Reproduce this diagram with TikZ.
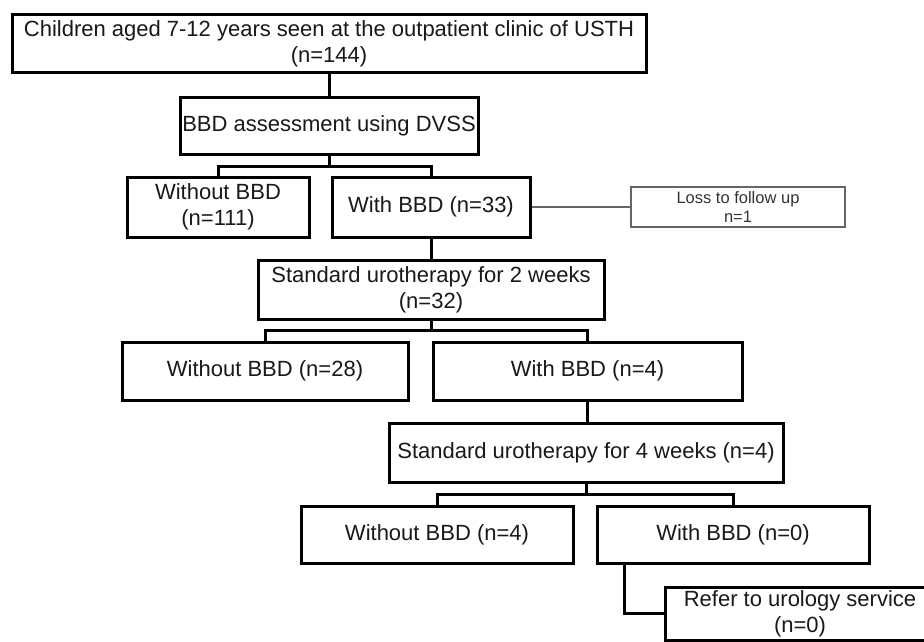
\documentclass[tikz,border=0pt]{standalone}
\usepackage{fontspec}
\setmainfont{Liberation Sans}
\begin{document}
\begin{tikzpicture}[x=1pt,y=-1pt,
  box/.style={draw=black, line width=3pt, inner sep=0pt, align=center,
    font=\fontsize{22}{26}\selectfont, text=black!90},
  con/.style={draw=black, line width=3pt},
  thinbox/.style={draw=black!60, line width=1.4pt, inner sep=0pt, align=center,
    font=\fontsize{16.5}{19}\selectfont, text=black!80},
  thincon/.style={draw=black!60, line width=1.4pt}]
\useasboundingbox (0,0) rectangle (924,642);
\clip (0,0) rectangle (924,642);
\fill[white] (0,0) rectangle (924,642);

% nodes
\node[box, minimum width=634pt, minimum height=58pt] (top) at (329,44)
  {Children aged 7-12 years seen at the outpatient clinic of USTH\\(n=144)};
\node[box, minimum width=298pt, minimum height=57pt] (bbd) at (329,125.5)
  {BBD assessment using DVSS};
\node[box, minimum width=182pt, minimum height=60pt] (wo1) at (218,207)
  {Without BBD\\(n=111)};
\node[box, minimum width=198pt, minimum height=60pt] (w1) at (431,207)
  {With BBD (n=33)};
\node[thinbox, minimum width=214pt, minimum height=40pt] (loss) at (738,207)
  {Loss to follow up\\n=1};
\node[box, minimum width=346pt, minimum height=59pt] (su2) at (431,289.5)
  {Standard urotherapy for 2 weeks\\(n=32)};
\node[box, minimum width=286pt, minimum height=58pt] (wo2) at (265,371)
  {Without BBD (n=28)};
\node[box, minimum width=309pt, minimum height=58pt] (w2) at (587.5,371)
  {With BBD (n=4)};
\node[box, minimum width=394pt, minimum height=59pt] (su4) at (586,452.5)
  {Standard urotherapy for 4 weeks (n=4)};
\node[box, minimum width=272pt, minimum height=57pt] (wo3) at (437,534.5)
  {Without BBD (n=4)};
\node[box, minimum width=272pt, minimum height=57pt] (w3) at (733,534.5)
  {With BBD (n=0)};
\node[box, minimum width=270pt, minimum height=53pt] (refer) at (800,613.5)
  {Refer to urology service\\(n=0)};

% junctions
\coordinate (j1) at (329,166);
\coordinate (j2) at (431,330);
\coordinate (j3) at (586,494);
\coordinate (w3out) at (624,563);

% connectors
\draw[con] (top.south) -- (bbd.north);
\draw[con] (bbd.south) -- (j1);
\draw[con] (wo1.north) |- (j1) -| (w1.north);
\draw[thincon] (w1.east) -- (loss.west);
\draw[con] (w1.south) -- (su2.north);
\draw[con] (su2.south) -- (j2);
\draw[con] (wo2.north) |- (j2) -| (w2.north);
\draw[con] (w2.south) -- (w2.south |- su4.north);
\draw[con] (su4.south) -- (j3);
\draw[con] (wo3.north) |- (j3) -| (w3.north);
\draw[con] (w3out) |- (refer.west);
\end{tikzpicture}
\end{document}
